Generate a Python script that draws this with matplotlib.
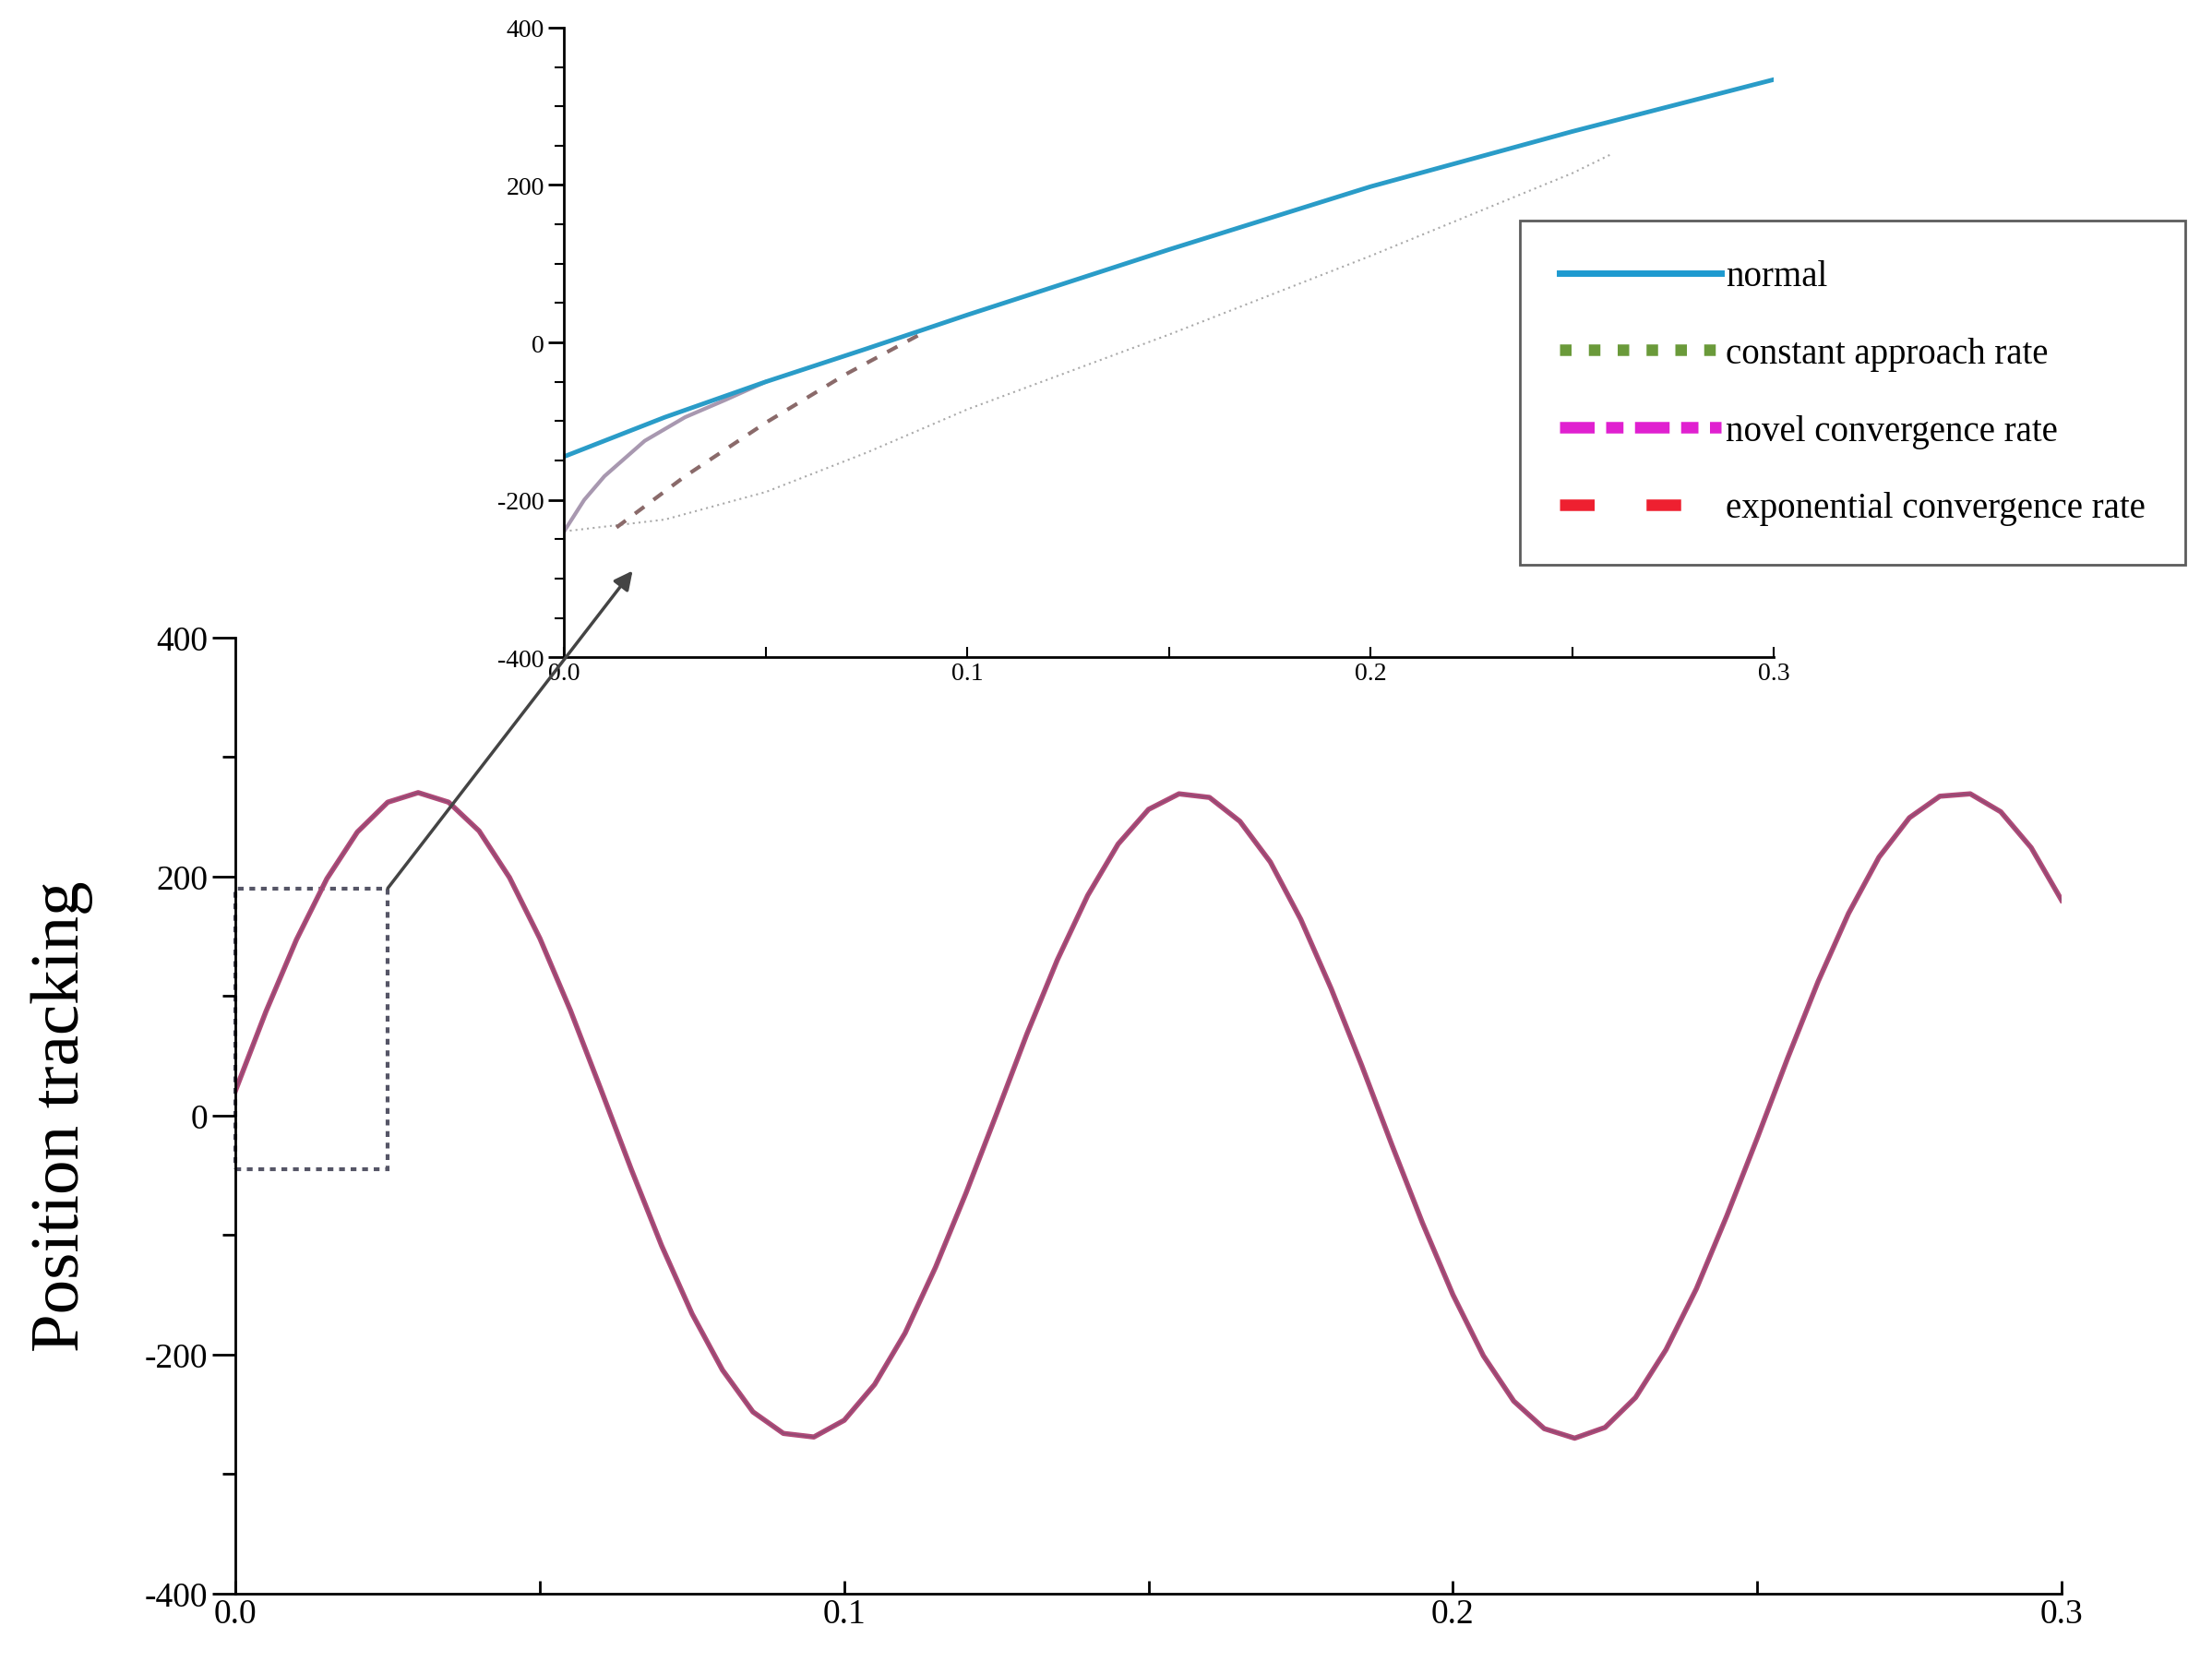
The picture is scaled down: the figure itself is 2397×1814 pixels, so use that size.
import matplotlib
matplotlib.use("Agg")
import matplotlib.pyplot as plt
from matplotlib.patches import Rectangle, ConnectionPatch
from matplotlib.ticker import MultipleLocator

plt.rcParams["font.family"] = ["Liberation Serif", "DejaVu Serif"]
plt.rcParams["axes.unicode_minus"] = False

# main trace, sampled every 0.005 s
t_main = [i * 0.005 for i in range(61)]
y_main = [21, 87, 147, 198, 237, 262, 270, 262, 238, 199, 148, 88, 22, -45, -109,
          -166, -213, -248, -266, -269, -255, -225, -182, -127, -65, 1, 68, 130, 184,
          227, 256, 269, 266, 246, 212, 164, 106, 42, -25, -90, -150, -201, -239,
          -262, -270, -261, -236, -196, -145, -84, -19, 48, 112, 169, 216, 249, 267,
          269, 254, 224, 180]

# zoomed start-up segment
t_normal = [0.0, 0.025, 0.05, 0.075, 0.1, 0.15, 0.2, 0.25, 0.3]
y_normal = [-145, -95, -50, -8, 35, 118, 198, 268, 334]
t_novel = [0.0, 0.005, 0.01, 0.02, 0.03, 0.04, 0.05]
y_novel = [-240, -200, -170, -125, -95, -73, -50]
t_const = [0.013, 0.03, 0.05, 0.07, 0.09]
y_const = [-235, -170, -102, -40, 15]
t_expo = [0.0, 0.025, 0.05, 0.075, 0.1, 0.15, 0.2, 0.25, 0.26]
y_expo = [-240, -225, -190, -140, -85, 10, 110, 215, 240]

fig = plt.figure(figsize=(23.97, 18.15), dpi=100)

ax = fig.add_axes([0.1065, 0.048, 0.8255, 0.571])
ax.plot(t_main, y_main, color="#b04a78", lw=4)
ax.plot(t_main, y_main, color="#7a4a70", lw=1.2, alpha=0.6)
ax.set_xlim(0, 0.3)
ax.set_ylim(-400, 400)
ax.spines["top"].set_visible(False)
ax.spines["right"].set_visible(False)
ax.spines["left"].set_linewidth(2)
ax.spines["bottom"].set_linewidth(2)
ax.set_yticks([-400, -200, 0, 200, 400])
ax.yaxis.set_minor_locator(MultipleLocator(100))
ax.set_xticks([0.0, 0.1, 0.2, 0.3])
ax.set_xticklabels(["0.0", "0.1", "0.2", "0.3"])
ax.xaxis.set_minor_locator(MultipleLocator(0.05))
ax.tick_params(axis="y", which="major", direction="out", length=18, width=2, labelsize=27)
ax.tick_params(axis="y", which="minor", direction="out", length=10, width=2)
ax.tick_params(axis="x", which="both", direction="in", length=10, width=2, labelsize=27)
ax.set_ylabel("Position tracking", fontsize=54, labelpad=40)

rect = Rectangle((0, -45), 0.025, 235, fill=False, ls=(0, (1.5, 1.5)), lw=3,
                 edgecolor="#555566", clip_on=False)
ax.add_patch(rect)

ins = fig.add_axes([0.255, 0.607, 0.547, 0.376])
ins.plot(t_expo, y_expo, color="#aaaaaa", lw=1.5, ls=(0, (1, 2)))
ins.plot(t_const, y_const, color="#8a6a6a", lw=3, ls=(0, (3, 3)))
ins.plot(t_novel, y_novel, color="#a898b0", lw=3)
ins.plot(t_normal, y_normal, color="#2a9cc8", lw=3.5)
ins.set_xlim(0, 0.3)
ins.set_ylim(-400, 400)
ins.spines["top"].set_visible(False)
ins.spines["right"].set_visible(False)
ins.spines["left"].set_linewidth(2)
ins.spines["bottom"].set_linewidth(2)
ins.set_yticks([-400, -200, 0, 200, 400])
ins.yaxis.set_minor_locator(MultipleLocator(50))
ins.set_xticks([0.0, 0.1, 0.2, 0.3])
ins.set_xticklabels(["0.0", "0.1", "0.2", "0.3"])
ins.xaxis.set_minor_locator(MultipleLocator(0.05))
ins.tick_params(axis="y", which="major", direction="out", length=12, width=2, labelsize=20)
ins.tick_params(axis="y", which="minor", direction="out", length=7, width=1.5)
ins.tick_params(axis="x", which="both", direction="in", length=8, width=1.5, labelsize=20)

h1, = ins.plot([], [], color="#1e9ad0", lw=5, label="normal")
h2, = ins.plot([], [], color="#6a9a3a", lw=9, ls=(0, (1, 1.5)), label="constant approach rate")
h3, = ins.plot([], [], color="#e020d0", lw=9, ls=(0, (3, 1, 1.5, 1)), label="novel convergence rate")
h4, = ins.plot([], [], color="#ee2030", lw=9, ls=(0, (3, 4.5)), label="exponential convergence rate")
leg = fig.legend(handles=[h1, h2, h3, h4], loc="upper left",
                 bbox_to_anchor=(0.687, 0.868), fontsize=28, handlelength=4.5,
                 labelspacing=1.2, frameon=True, fancybox=False, borderpad=1.1,
                 handletextpad=0.15, borderaxespad=0)
leg.get_frame().set_edgecolor("#333333")
leg.get_frame().set_linewidth(2)

arrow = ConnectionPatch(xyA=(0.025, 190), coordsA=ax.transData,
                        xyB=(0.017, -290), coordsB=ins.transData,
                        arrowstyle="-|>", mutation_scale=30, lw=2.5, color="#444444")
fig.add_artist(arrow)

plt.savefig("out.png", dpi=100)
plt.close()
